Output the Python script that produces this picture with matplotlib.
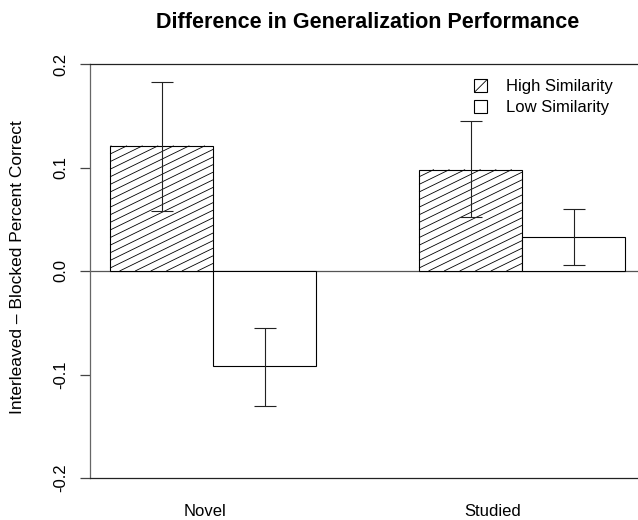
import numpy as np
import matplotlib
matplotlib.use("Agg")
import matplotlib.pyplot as plt
from matplotlib.patches import Patch
from matplotlib.collections import LineCollection
from matplotlib.transforms import IdentityTransform

plt.rcParams['font.family'] = ['Liberation Sans', 'DejaVu Sans']
plt.rcParams['hatch.linewidth'] = 0.6

categories = ['Novel', 'Studied']
series_names = ['High Similarity', 'Low Similarity']
high_vals = [0.121, 0.098]
low_vals = [-0.092, 0.033]
high_err_lo = [0.058, 0.052]
high_err_hi = [0.183, 0.145]
low_err_lo = [-0.130, 0.006]
low_err_hi = [-0.055, 0.060]
yticks = [-0.2, -0.1, 0.0, 0.1, 0.2]
ytick_labels = ['-0.2', '-0.1', '0.0', '0.1', '0.2']

W, H = 638, 520
fig = plt.figure(figsize=(W / 100, H / 100), dpi=100)
left_px, right_px, top_px, bot_px = 89.5, 645.6, 64, 478
ax = fig.add_axes([left_px / W, 1 - bot_px / H, (right_px - left_px) / W, (bot_px - top_px) / H])
ax.set_xlim(0.8, 6.2)
ax.set_ylim(-0.2, 0.2)

# bar positions (R barplot, beside=TRUE, space=c(0,1))
x_high = np.array([1.5, 4.5])
x_low = np.array([2.5, 5.5])
bars_h = ax.bar(x_high, high_vals, width=1.0, color='white', edgecolor='black', linewidth=0.8, zorder=2)
bars_l = ax.bar(x_low, low_vals, width=1.0, color='white', edgecolor='black', linewidth=0.8, zorder=2)

# custom hatching (shallow angle) for high-similarity bars, clipped analytically
theta = np.deg2rad(26)
spacing = 7.6
for b in bars_h:
    (x0, y0), (x1, y1) = ax.transData.transform([(b.get_x(), b.get_y()),
                                                 (b.get_x() + b.get_width(), b.get_y() + b.get_height())])
    ylo, yhi = min(y0, y1), max(y0, y1)
    slope = np.tan(theta)
    dy = slope * (x1 - x0)
    segs = []
    for c in np.arange(ylo - dy, yhi, spacing):
        xa = max(x0, x0 + (ylo - c) / slope)
        xb = min(x1, x0 + (yhi - c) / slope)
        if xb > xa:
            segs.append([(xa, c + slope * (xa - x0)), (xb, c + slope * (xb - x0))])
    lc = LineCollection(segs, colors='black', linewidths=0.6, transform=IdentityTransform(), zorder=2.5)
    lc.set_clip_on(False)
    ax.add_collection(lc, autolim=False)

# error bars
for xs, lo, hi in [(x_high, high_err_lo, high_err_hi), (x_low, low_err_lo, low_err_hi)]:
    for x, a, b in zip(xs, lo, hi):
        ax.errorbar([x], [(a + b) / 2], yerr=[[(b - a) / 2], [(b - a) / 2]], fmt='none',
                    ecolor='#222222', elinewidth=0.8, capsize=7.9, capthick=0.8, zorder=3)

ax.axhline(0, color='#555555', linewidth=0.9, zorder=1.5)

ax.spines['right'].set_visible(False)
ax.spines['left'].set_color('#666666')
ax.spines['top'].set_color('#222222')
ax.spines['bottom'].set_color('#222222')
for s in ['left', 'top', 'bottom']:
    ax.spines[s].set_linewidth(0.9)

ax.set_yticks(yticks)
ax.set_yticklabels(ytick_labels, rotation=90, va='center', fontsize=12)
ax.tick_params(axis='y', length=7.2, width=0.9, color='#444444', pad=8)
ax.set_xticks([1.92, 4.71])
ax.set_xticklabels(categories, fontsize=12)
ax.tick_params(axis='x', length=0, pad=19)

ax.set_ylabel('Interleaved \u2013 Blocked Percent Correct', fontsize=12.5)
ax.yaxis.set_label_coords((25 - left_px) / (right_px - left_px), (bot_px - 267) / (bot_px - top_px))

fig.text((left_px + right_px) / 2 / W, 1 - 22 / H, 'Difference in Generalization Performance',
         ha='center', va='center', fontsize=15.5, fontweight='bold')

handles = [Patch(facecolor='white', edgecolor='black', hatch='//', linewidth=0.8),
           Patch(facecolor='white', edgecolor='black', linewidth=0.8)]
ax.legend(handles, series_names, loc='upper left', bbox_to_anchor=(474 / W, 1 - 79 / H),
          bbox_transform=fig.transFigure, frameon=False, fontsize=12,
          handlelength=0.8, handleheight=0.8, handletextpad=1.1, labelspacing=0.35,
          borderpad=0, borderaxespad=0)

fig.savefig('out.png', dpi=100)
